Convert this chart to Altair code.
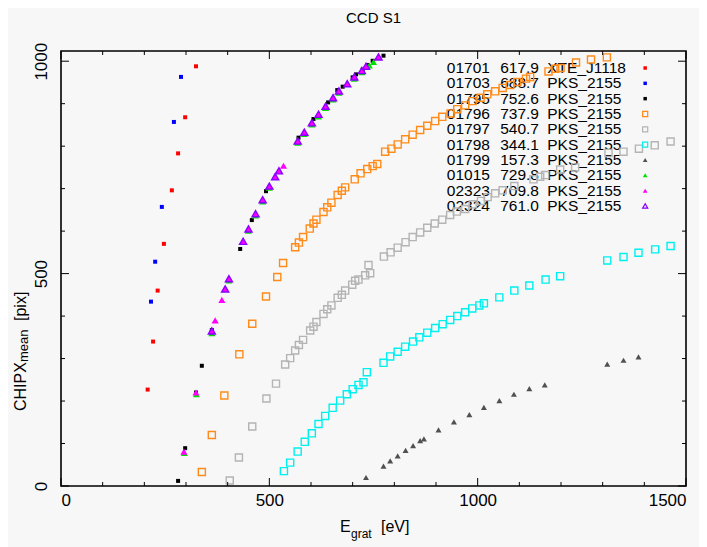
import altair as alt
import pandas as pd

# ---------------- data ----------------
obs_ids = ["01701", "01703", "01795", "01796", "01797", "01798", "01799", "01015", "02323", "02324"]
obs_exp = ["617.9", "688.7", "752.6", "737.9", "540.7", "344.1", "157.3", "729.8", "709.8", "761.0"]
obs_src = ["XTE_J1118", "PKS_2155", "PKS_2155", "PKS_2155", "PKS_2155", "PKS_2155",
           "PKS_2155", "PKS_2155", "PKS_2155", "PKS_2155"]

x_01701 = [208, 221, 232, 247, 266, 281, 298, 324]
y_01701 = [227, 340, 460, 570, 696, 783, 868, 988]

x_01703 = [216, 226, 242, 271, 288]
y_01703 = [434, 528, 657, 857, 963]

x_01795 = [281, 298, 324, 338, 362, 430, 458, 492, 570, 606, 641, 663, 676, 700, 708, 724, 735, 748, 774]
y_01795 = [12, 89, 220, 283, 367, 558, 626, 694, 820, 864, 903, 932, 940, 962, 969, 980, 991, 1001, 1013]

x_01796 = [338, 362, 392, 428, 459, 492, 519, 533, 562, 571, 581, 597, 606, 613, 630, 639, 649, 664,
           674, 682, 705, 719, 735, 748, 759, 778, 793, 808, 826, 844, 862, 879, 898, 915, 935, 951,
           970, 988, 1007, 1023, 1042, 1060, 1078, 1095, 1116, 1126, 1170, 1186, 1199, 1236, 1272, 1310]
y_01796 = [33, 120, 213, 310, 382, 446, 492, 525, 562, 573, 586, 606, 618, 627, 645, 656, 667, 685,
           695, 703, 722, 736, 746, 753, 758, 787, 794, 804, 816, 827, 838, 848, 859, 869, 877, 887,
           896, 906, 914, 922, 929, 937, 944, 951, 959, 963, 976, 982, 984, 997, 1004, 1009]

x_01797 = [405, 427, 459, 493, 516, 538, 550, 562, 571, 581, 598, 606, 613, 630, 639, 649, 664, 674,
           682, 699, 706, 714, 730, 742, 738, 775, 791, 808, 827, 844, 862, 879, 897, 915, 934, 950,
           970, 988, 1008, 1024, 1042, 1060, 1088, 1134, 1150, 1162, 1198, 1234, 1314, 1350, 1387,
           1425, 1463]
y_01797 = [13, 67, 140, 206, 241, 286, 301, 319, 332, 344, 366, 375, 386, 405, 416, 425, 443, 450,
           460, 474, 483, 486, 496, 501, 520, 540, 550, 561, 574, 586, 597, 608, 618, 627, 638, 646,
           652, 663, 671, 680, 689, 696, 706, 722, 728, 732, 745, 750, 784, 787, 794, 802, 811]

x_01798 = [535, 550, 568, 585, 602, 618, 634, 652, 670, 686, 700, 714, 726, 734, 774, 790, 808, 826,
           845, 860, 879, 898, 916, 934, 951, 970, 987, 1004, 1015, 1052, 1088, 1124, 1163, 1198,
           1311, 1350, 1386, 1426, 1463]
y_01798 = [35, 55, 81, 104, 124, 146, 165, 184, 201, 216, 228, 238, 244, 268, 290, 305, 316, 328,
           340, 350, 361, 372, 381, 391, 400, 409, 418, 425, 430, 444, 460, 472, 486, 494,
           531, 539, 549, 557, 565]

x_01799 = [732, 774, 790, 808, 827, 845, 862, 871, 906, 943, 980, 1015, 1052, 1087, 1124, 1161, 1311, 1350, 1386]
y_01799 = [20, 47, 59, 71, 84, 95, 107, 111, 132, 151, 168, 185, 201, 216, 229, 238, 287, 296, 304]

x_01015 = [296, 325, 362, 403, 450, 467, 484, 500, 568, 584, 602, 618, 635, 653, 667, 704, 722, 740, 750]
y_01015 = [78, 216, 360, 484, 601, 637, 670, 702, 808, 829, 851, 870, 890, 910, 926, 959, 974, 990, 998]

x_02323 = [295, 324, 362, 370, 386, 394, 403, 437, 450, 467, 484, 500, 514, 523, 534, 568, 584, 602,
           618, 635, 653, 667, 687, 704, 722, 732, 762]
y_02323 = [81, 220, 365, 390, 438, 464, 488, 576, 605, 641, 674, 706, 728, 742, 754, 812, 833, 855,
           875, 894, 914, 930, 947, 963, 978, 988, 1010]

x_02324 = [362, 394, 403, 437, 450, 467, 484, 500, 514, 523, 568, 584, 602, 618, 635, 653, 667, 687,
           704, 722, 732, 762]
y_02324 = [365, 464, 488, 576, 605, 641, 674, 706, 728, 742, 812, 833, 855, 875, 894, 914, 930, 947,
           963, 978, 988, 1010]

x_tick_values = list(range(0, 1501, 100))
y_tick_values = list(range(0, 1001, 100))
x_label_values = [0, 500, 1000, 1500]
y_label_values = [0, 500, 1000]

# ---------------- styles ----------------
W, H = 625, 435
XDOM, YDOM = [0, 1500], [0, 1024]
FONT = "Liberation Sans"

styles = {
    "01701": dict(color="#ff0000", shape="square", filled=True, size=16, lsize=12, sw=1),
    "01703": dict(color="#0000ff", shape="square", filled=True, size=16, lsize=12, sw=1),
    "01795": dict(color="#000000", shape="square", filled=True, size=16, lsize=12, sw=1),
    "01796": dict(color="#ff8c1a", shape="square", filled=False, size=50, lsize=26, sw=1.4),
    "01797": dict(color="#b4b4b4", shape="square", filled=False, size=50, lsize=26, sw=1.4),
    "01798": dict(color="#00f0f0", shape="square", filled=False, size=50, lsize=26, sw=1.4),
    "01799": dict(color="#505050", shape="triangle-up", filled=True, size=36, lsize=22, sw=1),
    "01015": dict(color="#00e000", shape="triangle-up", filled=True, size=50, lsize=22, sw=1),
    "02323": dict(color="#ff00ff", shape="triangle-up", filled=True, size=50, lsize=22, sw=1),
    "02324": dict(color="#8800ff", shape="triangle-up", filled=False, size=50, lsize=26, sw=1.4),
}
series_data = {
    "01701": (x_01701, y_01701), "01703": (x_01703, y_01703), "01795": (x_01795, y_01795),
    "01796": (x_01796, y_01796), "01797": (x_01797, y_01797), "01798": (x_01798, y_01798),
    "01799": (x_01799, y_01799), "01015": (x_01015, y_01015), "02323": (x_02323, y_02323),
    "02324": (x_02324, y_02324),
}

xs = alt.Scale(domain=XDOM, nice=False, zero=False)
ys = alt.Scale(domain=YDOM, nice=False, zero=False)

base_x_axis = alt.Axis(values=x_label_values, format="d", ticks=False, domain=False, grid=False,
                       title=None, labelFont=FONT, labelFontSize=17, labelPadding=6,
                       labelColor="black")
base_y_axis = alt.Axis(values=y_label_values, format="d", ticks=False, domain=False, grid=False,
                       title=None, labelFont=FONT, labelFontSize=17, labelPadding=11,
                       labelAngle=270, labelAlign="center", labelBaseline="bottom",
                       labelColor="black")

layers = []

# legend (text rows in data units, placed from the row index)
legend_df = pd.DataFrame({"id": obs_ids, "expo": obs_exp, "src": obs_src, "row": list(range(len(obs_ids)))})
legend_base = alt.Chart(legend_df).transform_calculate(ly="984 - datum.row * 36.1")
for col, xpos in [("id", 926), ("expo", 1054), ("src", 1167)]:
    layers.append(
        legend_base.transform_calculate(lx=str(xpos)).mark_text(
            align="left", baseline="middle", font=FONT, fontSize=15.5, color="black"
        ).encode(
            x=alt.X("lx:Q", scale=xs, axis=base_x_axis),
            y=alt.Y("ly:Q", scale=ys, axis=base_y_axis),
            text=f"{col}:N",
        )
    )

# series points
draw_order = ["01701", "01703", "01796", "01797", "01798", "01799", "01795", "01015", "02323", "02324"]
for sid in draw_order:
    xv, yv = series_data[sid]
    st = styles[sid]
    df = pd.DataFrame({"x": xv, "y": yv})
    mk = dict(shape=st["shape"], filled=st["filled"], size=st["size"], opacity=1)
    if st["filled"]:
        mk.update(color=st["color"], strokeWidth=0)
    else:
        mk.update(stroke=st["color"], strokeWidth=st["sw"], fill=None)
    layers.append(alt.Chart(df).mark_point(**mk).encode(
        x=alt.X("x:Q", scale=xs), y=alt.Y("y:Q", scale=ys)))

# legend symbols
for row, sid in enumerate(obs_ids):
    st = styles[sid]
    mk = dict(shape=st["shape"], filled=st["filled"], size=st["lsize"], opacity=1)
    if st["filled"]:
        mk.update(color=st["color"], strokeWidth=0)
    else:
        mk.update(stroke=st["color"], strokeWidth=1.2, fill=None)
    sdf = pd.DataFrame({"row": [row]})
    layers.append(alt.Chart(sdf).transform_calculate(
        lx="1402", ly="984 - datum.row * 36.1").mark_point(**mk).encode(
        x=alt.X("lx:Q", scale=xs), y=alt.Y("ly:Q", scale=ys)))

# inside tick marks on all four sides
def xticks(values, top, length):
    d = pd.DataFrame({"v": values})
    y0 = 0 if top else H
    y1 = length if top else H - length
    return alt.Chart(d).mark_rule(color="black", strokeWidth=1).encode(
        x=alt.X("v:Q", scale=xs), y=alt.value(y0), y2=alt.value(y1))

def yticks(values, right, length):
    d = pd.DataFrame({"v": values})
    x0 = W if right else 0
    x1 = W - length if right else length
    return alt.Chart(d).mark_rule(color="black", strokeWidth=1).encode(
        y=alt.Y("v:Q", scale=ys), x=alt.value(x0), x2=alt.value(x1))

x_major = [v for v in x_tick_values if v % 500 == 0]
x_minor = [v for v in x_tick_values if v % 500 != 0]
y_major = [v for v in y_tick_values if v % 500 == 0]
y_minor = [v for v in y_tick_values if v % 500 != 0]
for top in (False, True):
    layers.append(xticks(x_minor, top, 4))
    layers.append(xticks(x_major, top, 8))
for right in (False, True):
    layers.append(yticks(y_minor, right, 4))
    layers.append(yticks(y_major, right, 8))

# axis titles with subscripts
def txt(s, x, y, size, angle=0):
    return alt.Chart(pd.DataFrame({"t": [s]})).mark_text(
        text=s, align="left", baseline="alphabetic", font=FONT, fontSize=size,
        color="black", angle=angle).encode(x=alt.value(x), y=alt.value(y))

layers += [
    txt("E", 279, 481, 16),
    txt("grat", 290, 487, 12),
    txt("[eV]", 320, 481, 16),
    txt("CHIPX", -35, 360, 16, 270),
    txt("mean", -33, 311, 13, 270),
    txt("[pix]", -35, 270, 16, 270),
]

chart = alt.layer(*layers).properties(
    width=W, height=H,
    title=alt.TitleParams("CCD S1", font=FONT, fontSize=15, fontWeight="normal",
                          anchor="middle", offset=16, color="black"),
    autosize=alt.AutoSizeParams(type="none"),
    padding={"left": 53, "top": 43, "right": 13, "bottom": 61},
    background="#f7f7f7",
).configure_view(stroke="black", strokeWidth=1.6, fill="#f7f7f7")

chart.save("out.html", embed_options={"renderer": "svg", "actions": False})
